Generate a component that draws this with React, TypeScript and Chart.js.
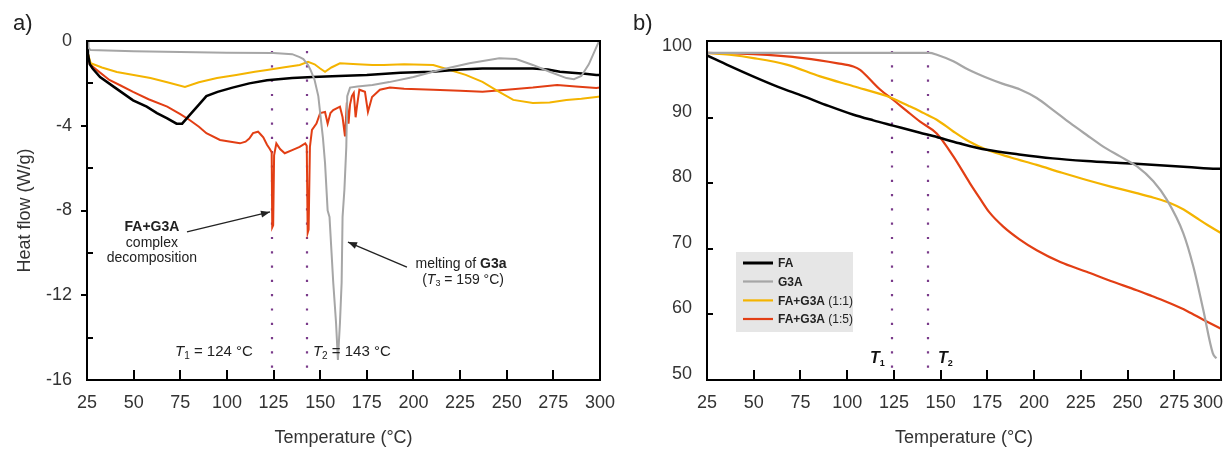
import React, { useEffect, useRef } from "react";
import { Chart, registerables } from "chart.js";
Chart.register(...registerables);

// ---------- shared ----------
const T1 = 124;
const T2 = 143;
const xTicks = [25, 50, 75, 100, 125, 150, 175, 200, 225, 250, 275, 300];
const dscYTicks = [-16, -14, -12, -10, -8, -6, -4, -2, 0];
const tgaYTicks = [50, 60, 70, 80, 90, 100];
const seriesNames = ["FA", "G3A", "FA+G3A (1:1)", "FA+G3A (1:5)"];

// ---------- a) DSC ----------
const dscFaT = [25, 25.5, 26.5, 28, 32, 40, 49.7, 57, 62.5, 68, 73, 76, 80, 85, 89, 95, 103, 112, 121.5, 135, 146, 160, 175, 193, 210, 225, 237, 250, 264, 272, 278.5, 285, 292, 298, 300];
const dscFaH = [-0.05, -0.6, -1.1, -1.3, -1.7, -2.2, -2.8, -3.1, -3.4, -3.65, -3.9, -3.9, -3.5, -3.0, -2.6, -2.4, -2.2, -2.0, -1.85, -1.75, -1.7, -1.65, -1.6, -1.5, -1.45, -1.35, -1.3, -1.3, -1.3, -1.35, -1.45, -1.5, -1.55, -1.6, -1.6];

const dscG3aT = [25, 25.5, 27, 50, 75, 100, 125, 135, 139, 141, 143.5, 145, 147, 149, 150, 151.5, 152.6, 154, 155, 157, 158.5, 159.5, 160.6, 161.5, 162, 163, 164, 164.5, 166, 170, 178, 187, 200, 214, 230, 246, 255, 264, 273, 282, 286, 290, 294, 297, 299.5];
const dscG3aH = [-0.05, -0.3, -0.43, -0.48, -0.52, -0.55, -0.57, -0.62, -0.76, -0.85, -1.13, -1.4, -1.84, -2.6, -3.4, -4.6, -5.76, -8.0, -8.3, -11.4, -13.3, -15.05, -13.3, -11.4, -8.3, -7.0, -5.0, -2.6, -2.2, -2.15, -2.08, -1.94, -1.7, -1.37, -1.05, -0.82, -0.85, -1.13, -1.45, -1.75, -1.8, -1.65, -1.1, -0.5, 0];

const dscMix11T = [25, 25.5, 27, 33, 41, 50, 59, 68, 77.5, 85, 94.7, 105, 115, 121.5, 130, 139, 143.5, 147, 150, 152.6, 156, 160.6, 170, 178, 184, 195, 210.6, 219.6, 228, 237, 245, 253.5, 264, 273, 282, 290, 298, 300];
const dscMix11H = [-0.05, -0.6, -1.05, -1.25, -1.46, -1.6, -1.75, -1.95, -2.17, -1.95, -1.75, -1.6, -1.45, -1.37, -1.25, -1.13, -0.98, -1.1, -1.3, -1.45, -1.25, -1.05, -1.1, -1.13, -1.13, -1.1, -1.13, -1.37, -1.6, -1.93, -2.35, -2.78, -2.93, -2.9, -2.78, -2.72, -2.64, -2.62];

const dscMix15T = [25, 25.5, 26.5, 30, 37, 43, 49.7, 58, 68, 75, 80, 85, 89, 96.3, 102, 107, 110, 112, 114, 116.7, 118, 119.5, 121.5, 123, 124, 124.3, 124.8, 125.3, 126.5, 128.5, 131, 135, 139, 142, 142.8, 143.3, 143.8, 144.5, 145.6, 148, 150, 152.6, 154, 155.5, 157, 160.6, 162, 163.3, 164.3, 165.2, 166, 167, 168, 169, 169.7, 171, 174, 175.6, 177.8, 182, 187.4, 195, 210.6, 225, 237, 250, 264, 277, 287, 298, 300];
const dscMix15H = [-0.05, -0.6, -1.1, -1.35, -1.84, -2.1, -2.4, -2.75, -3.1, -3.45, -3.73, -4.05, -4.35, -4.67, -4.75, -4.83, -4.75, -4.6, -4.35, -4.28, -4.4, -4.55, -4.9, -5.1, -5.25, -8.8, -8.7, -5.4, -4.83, -5.1, -5.3, -5.15, -5.0, -4.83, -4.95, -9.05, -8.9, -5.0, -4.2, -3.9, -3.4, -3.35, -3.9, -3.4, -3.26, -3.1, -3.6, -4.5, -2.9, -3.9, -3.0, -2.6, -2.45, -3.6, -3.1, -2.3, -2.4, -3.35, -2.64, -2.3, -2.2, -2.25, -2.3, -2.35, -2.4, -2.3, -2.2, -2.08, -2.15, -2.22, -2.2];

// ---------- b) TGA ----------
const tgaFaT = [25, 37, 49.6, 63, 76.4, 90, 103, 114, 124.5, 139, 146, 160, 174.7, 192, 210, 228, 246, 265, 282, 297.7, 300];
const tgaFaW = [99.5, 97.9, 96.3, 94.7, 93.3, 91.8, 90.5, 89.6, 88.8, 87.7, 87.2, 86.1, 85.1, 84.4, 83.8, 83.4, 83.1, 82.8, 82.5, 82.2, 82.2];

const tgaG3aT = [25, 60, 100, 130, 144, 148, 156.8, 165, 174.7, 183, 192.5, 201.4, 210, 219.2, 228, 237, 246, 254.9, 263.8, 271, 279.8, 285.2, 290.5, 295.6, 297.5];
const tgaG3aW = [99.9, 99.9, 99.9, 99.9, 99.9, 99.6, 98.6, 97.3, 96.1, 95.2, 94.3, 93.0, 91.2, 89.2, 87.4, 85.6, 84.1, 82.6, 80.3, 77.5, 72.4, 67.3, 60.7, 54.1, 53.3];

const tgaMix11T = [25, 37, 49.8, 67.6, 85.5, 103.3, 121.1, 133, 139, 143, 147.9, 156.8, 165, 174.7, 188, 201.4, 215, 228.1, 241, 254.9, 264, 272.7, 280, 287, 293, 300];
const tgaMix11W = [99.9, 99.6, 99.1, 98.1, 96.3, 94.8, 93.3, 91.8, 91.0, 90.4, 89.7, 87.9, 86.4, 85.1, 83.9, 82.8, 81.6, 80.5, 79.5, 78.5, 77.8, 77.0, 76.0, 74.7, 73.6, 72.4];

const tgaMix15T = [25, 49.8, 76.5, 95, 103.3, 106.9, 112, 117.6, 124.7, 132, 139, 147.9, 156.8, 165.7, 171, 176, 183.5, 192, 201.4, 214, 228.1, 241, 254.9, 263, 272.7, 282, 290.5, 300];
const tgaMix15W = [99.9, 99.7, 99.1, 98.3, 97.8, 97.3, 95.9, 94.3, 92.7, 91.0, 89.4, 87.6, 84.1, 80.0, 77.7, 75.6, 73.4, 71.5, 69.8, 68.0, 66.5, 65.1, 63.7, 62.8, 61.7, 60.5, 59.2, 57.8];

// ---------- styling ----------
const FONT = "'Liberation Sans', Arial, Helvetica, sans-serif";
const TXT = "#333333";
const colors = ["#000000", "#a6a6a6", "#f4b400", "#e23e14"];
const DOT = "#7a3b8a";

const pts = (xs: number[], ys: number[]) => xs.map((x, i) => ({ x, y: ys[i] }));

function rich(ctx: CanvasRenderingContext2D, parts: { t: string; f: string; dy?: number }[], x: number, y: number, align: "left" | "center" | "right") {
  ctx.textBaseline = "middle";
  ctx.textAlign = "left";
  let w = 0;
  for (const p of parts) { ctx.font = p.f; w += ctx.measureText(p.t).width; }
  let cx = align === "left" ? x : align === "center" ? x - w / 2 : x - w;
  for (const p of parts) {
    ctx.font = p.f;
    ctx.fillText(p.t, cx, y + (p.dy || 0));
    cx += ctx.measureText(p.t).width;
  }
}

function arrow(ctx: CanvasRenderingContext2D, x1: number, y1: number, x2: number, y2: number) {
  ctx.beginPath(); ctx.moveTo(x1, y1); ctx.lineTo(x2, y2); ctx.stroke();
  const a = Math.atan2(y2 - y1, x2 - x1);
  const L = 9, W = 3.5;
  ctx.beginPath();
  ctx.moveTo(x2, y2);
  ctx.lineTo(x2 - L * Math.cos(a) + W * Math.sin(a), y2 - L * Math.sin(a) - W * Math.cos(a));
  ctx.lineTo(x2 - L * Math.cos(a) - W * Math.sin(a), y2 - L * Math.sin(a) + W * Math.cos(a));
  ctx.closePath(); ctx.fill();
}

function dottedLines(chart: any) {
  const ctx = chart.ctx, xs = chart.scales.x, a = chart.chartArea;
  ctx.save();
  ctx.strokeStyle = DOT; ctx.lineWidth = 2.2; ctx.setLineDash([2.2, 12.1]);
  for (const t of [T1, T2]) {
    const px = Math.round(xs.getPixelForValue(t));
    ctx.beginPath(); ctx.moveTo(px, a.top + 10); ctx.lineTo(px, a.bottom); ctx.stroke();
  }
  ctx.restore();
}

function frameAndTicks(chart: any, yTickFn: (v: number) => number) {
  const ctx = chart.ctx, xs = chart.scales.x, ys = chart.scales.y, a = chart.chartArea;
  ctx.save();
  ctx.strokeStyle = "#000"; ctx.lineWidth = 2;
  ctx.strokeRect(a.left, a.top, a.right - a.left, a.bottom - a.top);
  ctx.lineWidth = 2;
  for (const v of xTicks) {
    if (v === 25 || v === 300) continue;
    const px = Math.round(xs.getPixelForValue(v));
    ctx.beginPath(); ctx.moveTo(px, a.bottom); ctx.lineTo(px, a.bottom - 10); ctx.stroke();
  }
  for (const t of ys.ticks) {
    const dir = yTickFn(t.value);
    if (!dir) continue;
    const py = Math.round(ys.getPixelForValue(t.value));
    ctx.beginPath(); ctx.moveTo(a.left, py); ctx.lineTo(a.left + dir * 6, py); ctx.stroke();
  }
  ctx.restore();
}

function axisTitles(chart: any, ytitle: string | null, panel: string, panelX: number) {
  const ctx = chart.ctx, a = chart.chartArea;
  ctx.save();
  ctx.fillStyle = TXT;
  ctx.font = `18px ${FONT}`;
  ctx.textAlign = "center"; ctx.textBaseline = "middle";
  ctx.fillText("Temperature (°C)", (a.left + a.right) / 2, 438);
  if (ytitle) {
    ctx.save();
    ctx.translate(25, (a.top + a.bottom) / 2);
    ctx.rotate(-Math.PI / 2);
    ctx.fillText(ytitle, 0, 0);
    ctx.restore();
  }
  ctx.font = `22px ${FONT}`;
  ctx.textAlign = "left";
  ctx.fillStyle = "#222";
  ctx.fillText(panel, panelX, 24);
  ctx.restore();
}

function baseOptions(left: number, padRight: number, yMin: number, yMax: number, yTicks: number[], yLabel: (v: number) => string, labelOffset: number, xLabel: (v: number) => string) {
  return {
    animation: false,
    responsive: false,
    maintainAspectRatio: false,
    devicePixelRatio: 1,
    layout: { padding: { left: 0, top: 41, right: padRight, bottom: 0 } },
    plugins: { legend: { display: false }, tooltip: { enabled: false } },
    elements: { point: { radius: 0 } },
    scales: {
      x: {
        type: "linear", min: 25, max: 300,
        grid: { display: false, drawTicks: false },
        border: { display: false },
        afterBuildTicks: (s: any) => { s.ticks = xTicks.map((v) => ({ value: v })); },
        afterFit: (s: any) => { s.height = 70; s.paddingLeft = 0; s.paddingRight = 0; },
        ticks: { font: { family: FONT, size: 18 }, color: TXT, padding: 12, maxRotation: 0, autoSkip: false, callback: (v: any) => xLabel(Number(v)) },
      },
      y: {
        type: "linear", min: yMin, max: yMax,
        grid: { display: false, drawTicks: false },
        border: { display: false },
        afterBuildTicks: (s: any) => { s.ticks = yTicks.map((v) => ({ value: v })); },
        afterFit: (s: any) => { s.width = left; s.paddingTop = 0; s.paddingBottom = 0; },
        ticks: { font: { family: FONT, size: 18 }, color: TXT, padding: 15, labelOffset, autoSkip: false, callback: (v: any) => yLabel(Number(v)) },
      },
    },
  };
}

const dscPlugin = {
  id: "dscDecor",
  beforeDatasetsDraw(chart: any) { dottedLines(chart); },
  afterDatasetsDraw(chart: any) {
    frameAndTicks(chart, (v) => (v === 0 || v === -16 ? 0 : v % 4 === 0 ? -1 : 1));
    axisTitles(chart, "Heat flow (W/g)", "a)", 13);
    const ctx = chart.ctx, xs = chart.scales.x, ys = chart.scales.y;
    const X = (v: number) => xs.getPixelForValue(v);
    const Y = (v: number) => ys.getPixelForValue(v);
    ctx.save();
    ctx.fillStyle = "#222"; ctx.strokeStyle = "#222"; ctx.lineWidth = 1.3;
    const f15 = `15px ${FONT}`, i15 = `italic 15px ${FONT}`, s10 = `10px ${FONT}`;
    rich(ctx, [{ t: "T", f: i15 }, { t: "1", f: s10, dy: 4 }, { t: " = 124 °C", f: f15 }], X(72.2), Y(-14.68), "left");
    rich(ctx, [{ t: "T", f: i15 }, { t: "2", f: s10, dy: 4 }, { t: " = 143 °C", f: f15 }], X(146.1), Y(-14.68), "left");
    const f14 = `14px ${FONT}`, b14 = `bold 14px ${FONT}`, i14 = `italic 14px ${FONT}`, s9 = `9px ${FONT}`;
    rich(ctx, [{ t: "FA+G3A", f: b14 }], X(59.8), Y(-8.78), "center");
    rich(ctx, [{ t: "complex", f: f14 }], X(59.8), Y(-9.53), "center");
    rich(ctx, [{ t: "decomposition", f: f14 }], X(59.8), Y(-10.24), "center");
    rich(ctx, [{ t: "melting of ", f: f14 }, { t: "G3a", f: b14 }], X(225.5), Y(-10.52), "center");
    rich(ctx, [{ t: "(", f: f14 }, { t: "T", f: i14 }, { t: "3", f: s9, dy: 4 }, { t: " = 159 °C)", f: f14 }], X(226.6), Y(-11.28), "center");
    arrow(ctx, X(78.6), Y(-9.01), X(123.1), Y(-8.07));
    arrow(ctx, X(196.5), Y(-10.67), X(164.9), Y(-9.49));
    ctx.restore();
  },
};

const tgaPlugin = {
  id: "tgaDecor",
  beforeDatasetsDraw(chart: any) { dottedLines(chart); },
  afterDatasetsDraw(chart: any) {
    frameAndTicks(chart, (v) => (v === 100 || v === 50 ? 0 : 1));
    axisTitles(chart, null, "b)", 18);
    const ctx = chart.ctx, xs = chart.scales.x, ys = chart.scales.y, a = chart.chartArea;
    const X = (v: number) => xs.getPixelForValue(v);
    const Y = (v: number) => ys.getPixelForValue(v);
    ctx.save();
    // last x tick label, pulled inside the page
    ctx.fillStyle = TXT; ctx.font = `18px ${FONT}`; ctx.textAlign = "right"; ctx.textBaseline = "middle";
    ctx.fillText("300", X(300) + 2, 403);
    // T1, T2
    ctx.fillStyle = "#111";
    const bi = `bold italic 16px ${FONT}`, s9 = `bold 9px ${FONT}`;
    rich(ctx, [{ t: "T", f: bi }, { t: "1", f: s9, dy: 4 }], X(112.2), Y(53.2), "left");
    rich(ctx, [{ t: "T", f: bi }, { t: "2", f: s9, dy: 4 }], X(148.6), Y(53.2), "left");
    // legend
    const lx = a.left + 29, ly = 252;
    ctx.fillStyle = "#e6e6e6";
    ctx.fillRect(lx, ly, 117, 80);
    const rows = [263, 281.5, 300.4, 319];
    seriesNames.forEach((n, i) => {
      ctx.strokeStyle = colors[i]; ctx.lineWidth = i === 0 ? 3 : 2.2;
      ctx.beginPath(); ctx.moveTo(lx + 7, rows[i]); ctx.lineTo(lx + 37, rows[i]); ctx.stroke();
      ctx.fillStyle = "#222";
      const m = n.match(/^(\S+)(.*)$/) as RegExpMatchArray;
      rich(ctx, [{ t: m[1], f: `bold 12px ${FONT}` }, { t: m[2], f: `12px ${FONT}` }], lx + 42, rows[i] + 1, "left");
    });
    ctx.restore();
  },
};

function ChartCanvas({ config, width, height, left }: { config: any; width: number; height: number; left: number }) {
  const ref = useRef<HTMLCanvasElement | null>(null);
  useEffect(() => {
    if (!ref.current) return;
    const chart = new Chart(ref.current, config);
    return () => chart.destroy();
  }, []);
  return <canvas ref={ref} width={width} height={height} style={{ position: "absolute", left, top: 0, width, height }} />;
}

export default function App() {
  const dscConfig = {
    type: "line",
    data: {
      datasets: [
        { label: seriesNames[1], data: pts(dscG3aT, dscG3aH), borderColor: colors[1], borderWidth: 2, tension: 0 },
        { label: seriesNames[0], data: pts(dscFaT, dscFaH), borderColor: colors[0], borderWidth: 2.5, tension: 0 },
        { label: seriesNames[2], data: pts(dscMix11T, dscMix11H), borderColor: colors[2], borderWidth: 2, tension: 0 },
        { label: seriesNames[3], data: pts(dscMix15T, dscMix15H), borderColor: colors[3], borderWidth: 2, tension: 0 },
      ],
    },
    options: baseOptions(87, 15, -16, 0, dscYTicks, (v) => (v % 4 === 0 ? String(v) : ""), 0, (v) => String(v)),
    plugins: [dscPlugin],
  };
  const tgaConfig = {
    type: "line",
    data: {
      datasets: [
        { label: seriesNames[1], data: pts(tgaG3aT, tgaG3aW), borderColor: colors[1], borderWidth: 2.2, cubicInterpolationMode: "monotone" },
        { label: seriesNames[0], data: pts(tgaFaT, tgaFaW), borderColor: colors[0], borderWidth: 2.5, cubicInterpolationMode: "monotone" },
        { label: seriesNames[2], data: pts(tgaMix11T, tgaMix11W), borderColor: colors[2], borderWidth: 2.2, cubicInterpolationMode: "monotone" },
        { label: seriesNames[3], data: pts(tgaMix15T, tgaMix15W), borderColor: colors[3], borderWidth: 2.2, cubicInterpolationMode: "monotone" },
      ],
    },
    options: baseOptions(92, 10, 50, 101.7, tgaYTicks, (v) => String(v), -6, (v) => (v === 300 ? "" : String(v))),
    plugins: [tgaPlugin],
  };
  return (
    <div style={{ position: "absolute", left: 0, top: 0, width: 1231, height: 450, background: "#fff", overflow: "hidden" }}>
      <ChartCanvas config={dscConfig} width={615} height={450} left={0} />
      <ChartCanvas config={tgaConfig} width={616} height={450} left={615} />
    </div>
  );
}
